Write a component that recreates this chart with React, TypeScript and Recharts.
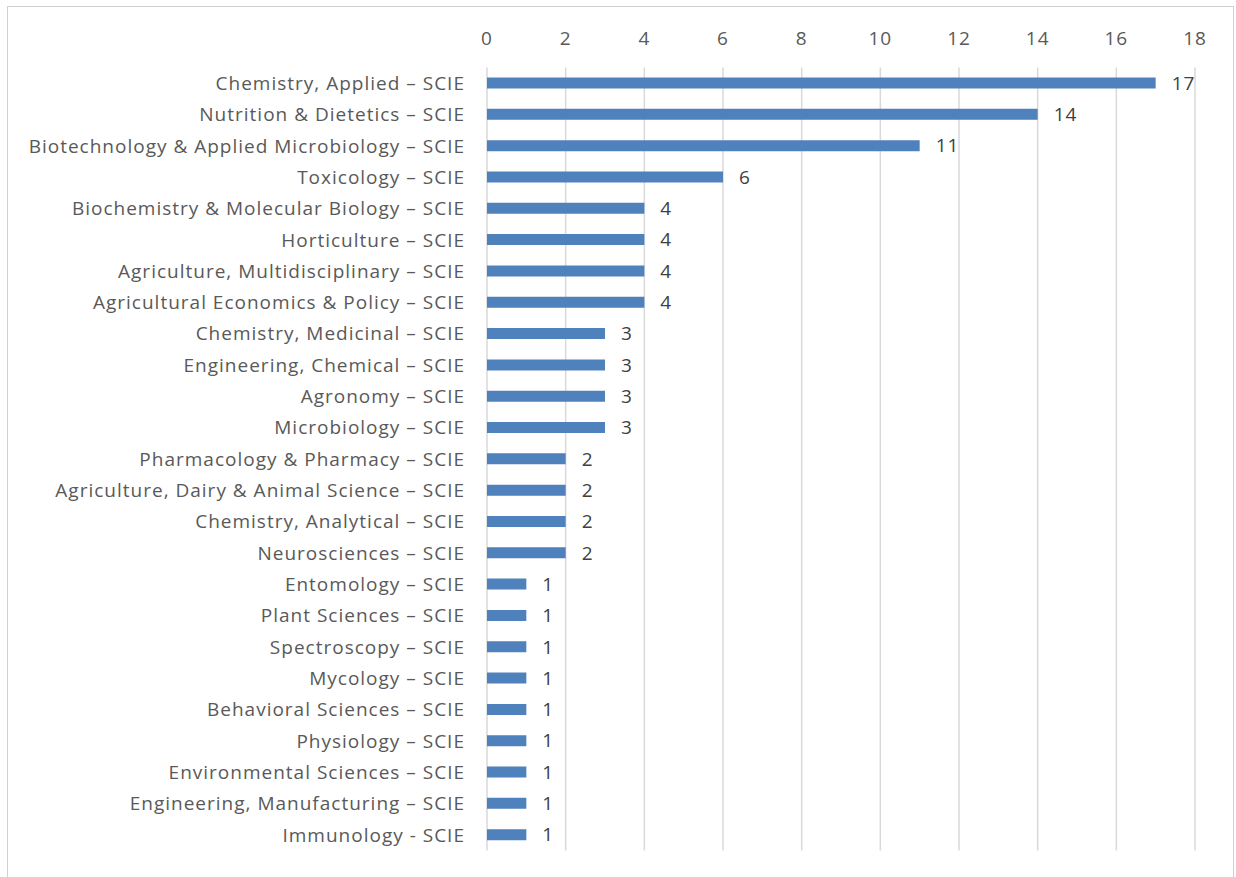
import { Bar, BarChart, CartesianGrid, LabelList, XAxis, YAxis } from 'recharts';

const categories = [
    'Chemistry, Applied – SCIE',
    'Nutrition & Dietetics – SCIE',
    'Biotechnology & Applied Microbiology – SCIE',
    'Toxicology – SCIE',
    'Biochemistry & Molecular Biology – SCIE',
    'Horticulture – SCIE',
    'Agriculture, Multidisciplinary – SCIE',
    'Agricultural Economics & Policy – SCIE',
    'Chemistry, Medicinal – SCIE',
    'Engineering, Chemical – SCIE',
    'Agronomy – SCIE',
    'Microbiology – SCIE',
    'Pharmacology & Pharmacy – SCIE',
    'Agriculture, Dairy & Animal Science – SCIE',
    'Chemistry, Analytical – SCIE',
    'Neurosciences – SCIE',
    'Entomology – SCIE',
    'Plant Sciences – SCIE',
    'Spectroscopy – SCIE',
    'Mycology – SCIE',
    'Behavioral Sciences – SCIE',
    'Physiology – SCIE',
    'Environmental Sciences – SCIE',
    'Engineering, Manufacturing – SCIE',
    'Immunology - SCIE',
];

const counts = [17, 14, 11, 6, 4, 4, 4, 4, 3, 3, 3, 3, 2, 2, 2, 2, 1, 1, 1, 1, 1, 1, 1, 1, 1];

const xTicks = [0, 2, 4, 6, 8, 10, 12, 14, 16, 18];

const FONT = '"Open Sans", Lato, sans-serif';
const textStyle = { letterSpacing: 1 };

export default function App() {
    const chartData = categories.map((name, i) => ({ name, value: counts[i] }));

    return (
        <div style={{ position: 'absolute', left: 0, top: 0, width: 1236, height: 877, background: '#fff', fontFamily: FONT }}>
            <div
                style={{
                    position: 'absolute',
                    left: 7,
                    top: 6,
                    width: 1227,
                    height: 900,
                    border: '1px solid #d0d0d0',
                    boxSizing: 'border-box',
                }}
            />
            <div style={{ position: 'absolute', left: 0, top: 0 }}>
                <BarChart
                    width={1236}
                    height={877}
                    data={chartData}
                    layout="vertical"
                    margin={{ top: 20, right: 41, left: 0, bottom: 26.5 }}
                    barCategoryGap={0}
                >
                    <CartesianGrid horizontal={false} vertical stroke="#d9d9d9" strokeWidth={1.5} />
                    <XAxis
                        type="number"
                        orientation="top"
                        domain={[0, 18]}
                        ticks={xTicks}
                        height={47.5}
                        axisLine={false}
                        tickLine={false}
                        tickSize={0}
                        tickMargin={23}
                        interval={0}
                        tick={{ fill: '#595959', fontSize: 19, fontFamily: FONT, style: textStyle }}
                    />
                    <YAxis
                        type="category"
                        dataKey="name"
                        width={487}
                        axisLine={false}
                        tickLine={false}
                        tickSize={0}
                        tickMargin={22}
                        interval={0}
                        tick={{ fill: '#595959', fontSize: 19, fontFamily: FONT, style: textStyle }}
                    />
                    <Bar dataKey="value" fill="#4f81bd" barSize={11} isAnimationActive={false}>
                        <LabelList
                            dataKey="value"
                            position="right"
                            offset={16}
                            fill="#404040"
                            fontSize={19}
                            fontFamily={FONT}
                            style={textStyle}
                        />
                    </Bar>
                </BarChart>
            </div>
        </div>
    );
}
